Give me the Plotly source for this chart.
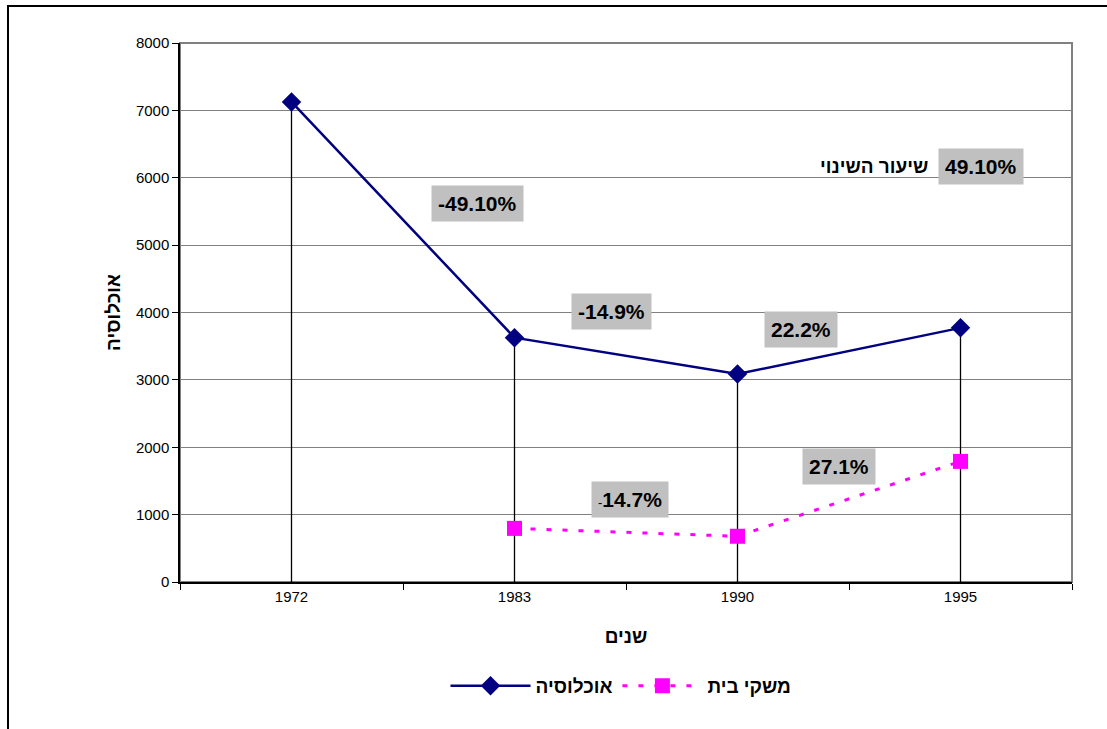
import plotly.graph_objects as go

# Data
years = ["1972", "1983", "1990", "1995"]
population = [7125, 3627, 3087, 3772]
households = [None, 796, 679, 1790]

# Change-rate labels: text, x (category index), y (value units)
change_text = ["-49.10%", "-14.9%", "22.2%",
               "<span style='font-weight:normal;font-size:13px'>-</span>14.7%",
               "27.1%", "49.10%"]
change_x = [0.836, 1.437, 2.285, 1.518, 2.455, 3.092]
change_y = [5625, 4010, 3744, 1225, 1714, 6173]

W, H = 1107, 729
ML, MR, MT, MB = 180, 35, 43, 147
PW, PH = W - ML - MR, H - MT - MB

FONT = "Liberation Sans, Arial, sans-serif"

fig = go.Figure()

# Population line with drop lines to the axis
fig.add_trace(go.Scatter(
    x=years, y=population, name="אוכלוסיה",
    mode="lines+markers",
    line=dict(color="#000080", width=2.5),
    marker=dict(symbol="diamond", size=15, color="#000080"),
    error_y=dict(type="data", symmetric=False,
                 array=[0] * len(population), arrayminus=population,
                 color="black", thickness=1.3, width=0),
))

# Households line
fig.add_trace(go.Scatter(
    x=years, y=households, name="משקי בית",
    mode="lines+markers",
    line=dict(color="#ff00ff", width=3, dash="5px,11px"),
    marker=dict(symbol="square", size=15, color="#ff00ff"),
))

annotations = []
for t, x, y in zip(change_text, change_x, change_y):
    annotations.append(dict(
        x=x, y=y, xref="x", yref="y", text=t, showarrow=False,
        font=dict(family=FONT, size=21, color="black", weight="bold"),
        bgcolor="#c0c0c0", borderpad=6,
    ))
annotations.append(dict(
    x=2.612, y=6173, xref="x", yref="y", text="שיעור השינוי", showarrow=False,
    font=dict(family=FONT, size=19, color="black", weight="bold"),
))

def px_x(p):
    return (p - ML) / PW

def px_y(p):
    return (H - MB - p) / PH

shapes = [
    # plot area frame
    dict(type="rect", xref="paper", yref="paper", x0=0, x1=1, y0=0, y1=1,
         line=dict(color="#808080", width=2), layer="below"),
    # outer chart border
    dict(type="rect", xref="paper", yref="paper",
         x0=px_x(8), x1=px_x(1300), y0=px_y(900), y1=px_y(6),
         line=dict(color="black", width=2)),
]

fig.update_layout(
    width=W, height=H,
    margin=dict(l=ML, r=MR, t=MT, b=MB),
    paper_bgcolor="white", plot_bgcolor="white",
    font=dict(family=FONT, color="black"),
    showlegend=True,
    legend=dict(orientation="h", x=px_x(621), xanchor="center",
                y=px_y(686), yanchor="middle",
                font=dict(size=19, weight="bold", family=FONT),
                itemwidth=80, bgcolor="rgba(0,0,0,0)"),
    annotations=annotations,
    shapes=shapes,
    xaxis=dict(
        type="category", range=[-0.5, 3.5],
        tickson="boundaries", ticks="outside", ticklen=6, tickcolor="black",
        showline=True, linecolor="black", linewidth=2,
        showgrid=False, zeroline=False,
        tickfont=dict(size=15),
        title=dict(text="שנים", font=dict(size=19, weight="bold"), standoff=26),
    ),
    yaxis=dict(
        range=[0, 8000], tickvals=[0, 1000, 2000, 3000, 4000, 5000, 6000, 7000, 8000],
        ticks="outside", ticklen=6, tickcolor="black",
        showline=True, linecolor="black", linewidth=1.5,
        showgrid=True, gridcolor="#808080", gridwidth=1, zeroline=False,
        tickfont=dict(size=15),
        title=dict(text="אוכלוסיה", font=dict(size=19, weight="bold"), standoff=10),
    ),
)

fig.write_html("out.html")
